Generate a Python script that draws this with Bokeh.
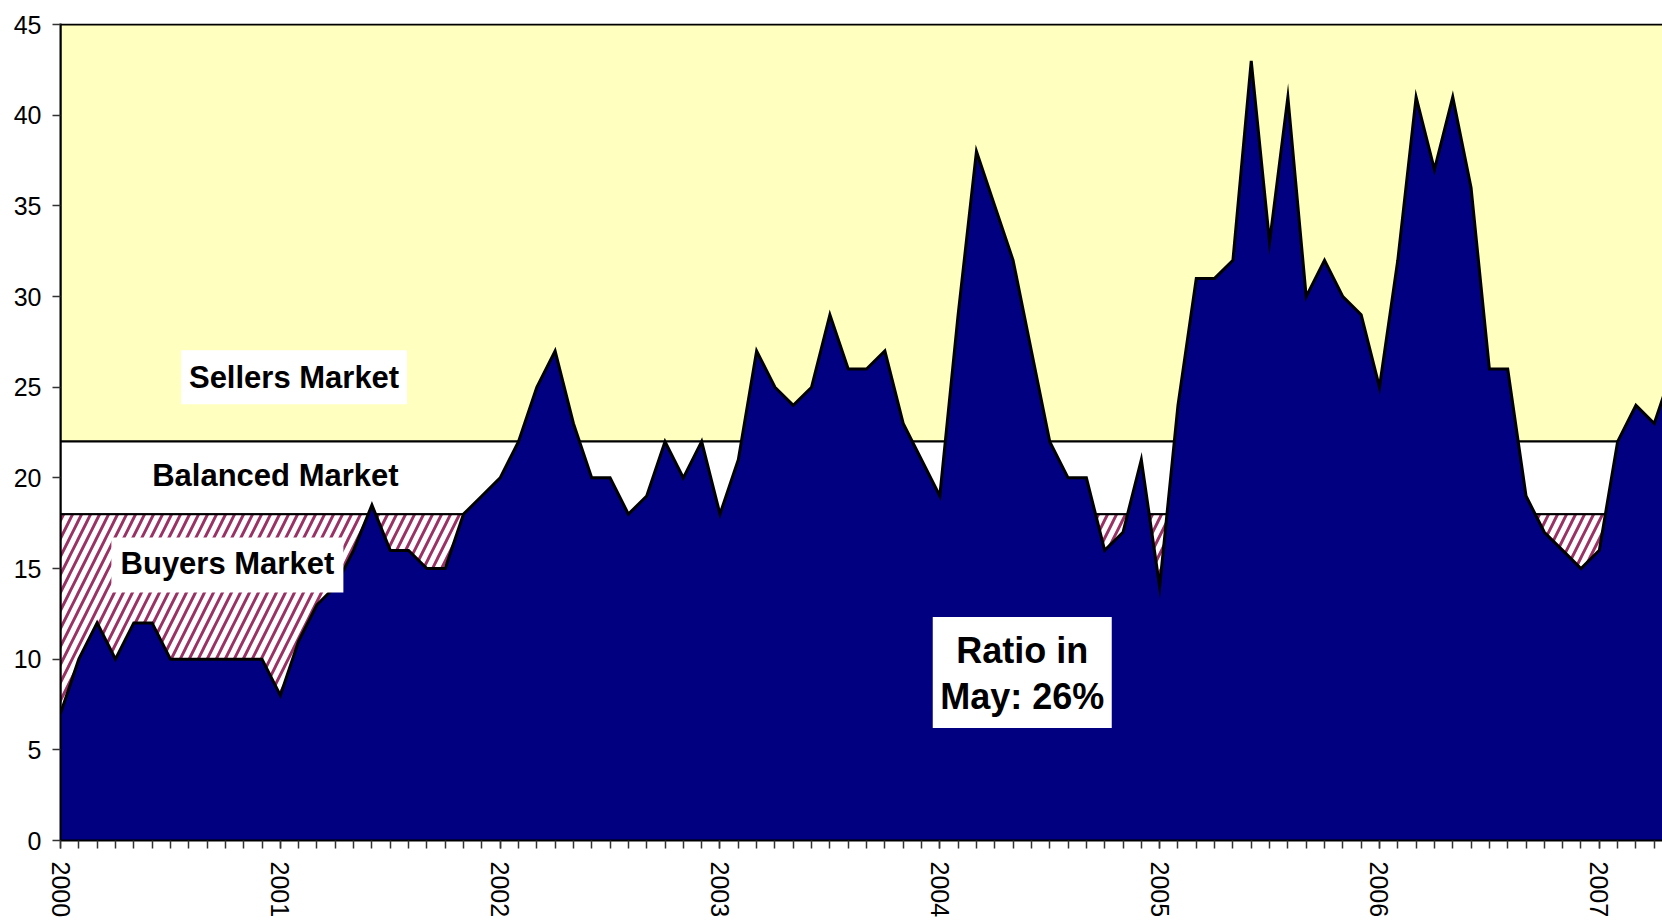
from bokeh.plotting import figure
from bokeh.models import Range1d, FixedTicker
from bokeh.core.properties import value
from bokeh.embed import file_html
from bokeh.resources import INLINE

# ---- data -------------------------------------------------------------
# monthly ratio, Jan 2000 .. May 2007 (month index 0 = Jan 2000)
ratio_2000 = [7, 10, 12, 10, 12, 12, 10, 10, 10, 10, 10, 10]
ratio_2001 = [8, 11, 13, 14, 16, 18.5, 16, 16, 15, 15, 18, 19]
ratio_2002 = [20, 22, 25, 27, 23, 20, 20, 18, 19, 22, 20, 22]
ratio_2003 = [18, 21, 27, 25, 24, 25, 29, 26, 26, 27, 23, 21]
ratio_2004 = [19, 29, 38, 35, 32, 27, 22, 20, 20, 16, 17, 21]
ratio_2005 = [14, 24, 31, 31, 32, 43, 33, 41, 30, 32, 30, 29]
ratio_2006 = [25, 32, 41, 37, 41, 36, 26, 26, 19, 17, 16, 15]
ratio_2007 = [16, 22, 24, 23, 26]

ratio = (ratio_2000 + ratio_2001 + ratio_2002 + ratio_2003 +
         ratio_2004 + ratio_2005 + ratio_2006 + ratio_2007)
months = list(range(len(ratio)))

years = ["2000", "2001", "2002", "2003", "2004", "2005", "2006", "2007"]
year_ticks = [12 * i for i in range(len(years))]

# market zones (stacked bands)
zone_names = ["Buyers Market", "Balanced Market", "Sellers Market"]
zone_bottom = [0, 18, 22]
zone_top = [18, 22, 45]

y_ticks = [0, 5, 10, 15, 20, 25, 30, 35, 40, 45]

# ---- figure -----------------------------------------------------------
FONT = "Liberation Sans"
NAVY = "#000080"
YELLOW = "#FFFFC0"
HATCH = "#993366"

p = figure(width=1662, height=920, output_backend="svg", toolbar_location=None,
           x_range=Range1d(0, 87.45), y_range=Range1d(0, 45.06),
           min_border_left=60, min_border_right=0, min_border_top=23,
           min_border_bottom=80)
p.outline_line_color = None
p.grid.visible = False
p.background_fill_color = "white"
p.border_fill_color = "white"

# zones
p.quad(left=months[0], right=months[-1], bottom=zone_bottom[2], top=zone_top[2],
       fill_color=YELLOW, line_color="black", line_width=2)
p.quad(left=months[0], right=months[-1], bottom=zone_bottom[1], top=zone_top[1],
       fill_color="white", line_color="black", line_width=2)
p.quad(left=months[0], right=months[-1], bottom=zone_bottom[0], top=zone_top[0],
       fill_color="white", hatch_pattern="/", hatch_color=HATCH,
       hatch_scale=18, hatch_weight=3, line_color="black", line_width=2)

# ratio area
p.varea(x=months, y1=[0] * len(months), y2=ratio, fill_color=NAVY)
p.line(x=months, y=ratio, line_color="black", line_width=3, line_join="miter")

# labels
p.rect(x=[12.75], y=[25.55], width=226, height=54, width_units="screen",
       height_units="screen", fill_color="white", line_color=None)
p.text(x=[12.75], y=[25.55], text=[zone_names[2]], text_font=value(FONT),
       text_font_style="bold", text_font_size="31px", text_align="center",
       text_baseline="middle", text_color="black")

p.text(x=[11.73], y=[20.13], text=[zone_names[1]], text_font=value(FONT),
       text_font_style="bold", text_font_size="31px", text_align="center",
       text_baseline="middle", text_color="black")

p.rect(x=[9.11], y=[15.2], width=232, height=55, width_units="screen",
       height_units="screen", fill_color="white", line_color=None)
p.text(x=[9.11], y=[15.26], text=[zone_names[0]], text_font=value(FONT),
       text_font_style="bold", text_font_size="31px", text_align="center",
       text_baseline="middle", text_color="black")

p.rect(x=[52.5], y=[9.26], width=179, height=111, width_units="screen",
       height_units="screen", fill_color="white", line_color=None)
p.text(x=[52.5, 52.5], y=[10.48, 7.95], text=["Ratio in", "May: 26%"],
       text_font=value(FONT), text_font_style="bold", text_font_size="36px",
       text_align="center", text_baseline="middle", text_color="black")

# axes
xa = p.xaxis[0]
xa.ticker = FixedTicker(ticks=year_ticks, minor_ticks=months)
xa.major_label_overrides = {t: y for t, y in zip(year_ticks, years)}
xa.major_label_orientation = "vertical"
xa.major_label_text_font = FONT
xa.major_label_text_font_size = "25px"
xa.major_label_text_color = "black"
xa.major_label_standoff = 13
xa.major_tick_out = 8
xa.major_tick_in = 0
xa.minor_tick_out = 8
xa.minor_tick_in = 0
xa.axis_line_width = 2
xa.axis_line_color = "black"
xa.major_tick_line_color = "#333333"
xa.minor_tick_line_color = "#333333"
xa.major_tick_line_width = 1.5
xa.minor_tick_line_width = 1.5

ya = p.yaxis[0]
ya.ticker = FixedTicker(ticks=y_ticks)
ya.major_label_text_font = FONT
ya.major_label_text_font_size = "25px"
ya.major_label_text_color = "black"
ya.major_label_standoff = 11
ya.major_tick_out = 8
ya.major_tick_in = 0
ya.minor_tick_out = 0
ya.minor_tick_in = 0
ya.axis_line_width = 2
ya.axis_line_color = "black"
ya.major_tick_line_color = "#333333"
ya.major_tick_line_width = 1.5

open("out.html", "w").write(file_html(p, INLINE))
